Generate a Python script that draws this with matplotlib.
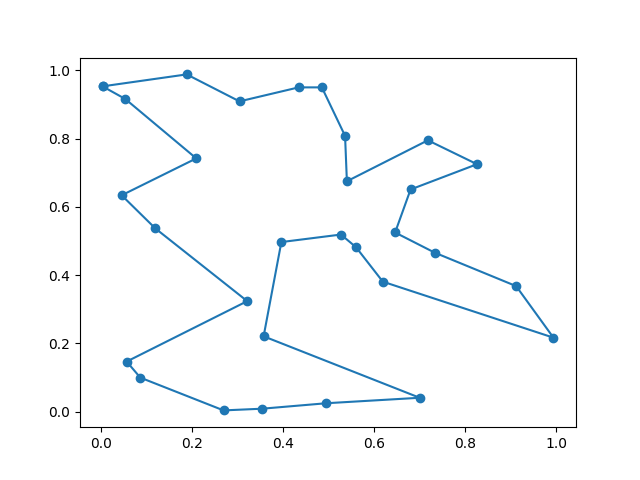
import numpy as np
import matplotlib
matplotlib.use("Agg")
import matplotlib.pyplot as plt

# city coordinates in tour order
xs = [0.003, 0.188, 0.304, 0.434, 0.485, 0.536, 0.540, 0.718, 0.826, 0.680,
      0.646, 0.733, 0.912, 0.994, 0.619, 0.560, 0.527, 0.396, 0.357, 0.700,
      0.495, 0.354, 0.269, 0.086, 0.056, 0.321, 0.119, 0.045, 0.209, 0.053]
ys = [0.953, 0.988, 0.909, 0.950, 0.950, 0.808, 0.675, 0.795, 0.725, 0.651,
      0.525, 0.466, 0.368, 0.217, 0.381, 0.482, 0.519, 0.497, 0.221, 0.041,
      0.025, 0.009, 0.004, 0.100, 0.147, 0.324, 0.537, 0.634, 0.742, 0.916]

# close the tour
tour_x = np.array(xs + [xs[0]])
tour_y = np.array(ys + [ys[0]])

plt.figure(figsize=(6.4, 4.8), dpi=100)
plt.plot(tour_x, tour_y, "o-")
plt.savefig("out.png")
